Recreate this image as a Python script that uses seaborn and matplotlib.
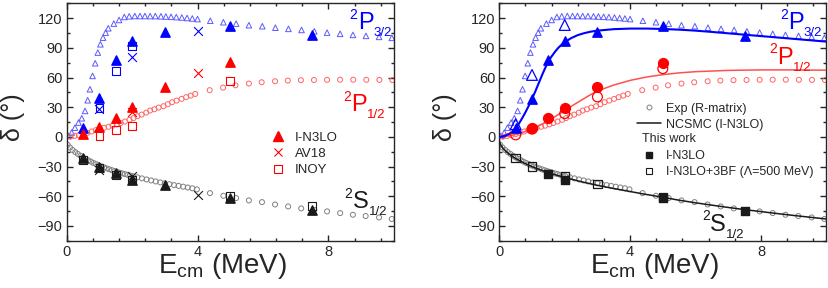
import matplotlib
matplotlib.use("Agg")
import matplotlib.pyplot as plt
import seaborn as sns
from matplotlib.lines import Line2D
from matplotlib.ticker import MultipleLocator

# Exp (R-matrix) phase shifts
e_p32 = [0.05, 0.15, 0.25, 0.36, 0.46, 0.56, 0.64, 0.71, 0.79, 0.87, 0.95, 1.03, 1.11, 1.19, 1.27,
         1.44, 1.60, 1.76, 1.91, 2.08, 2.24, 2.39, 2.55, 2.71, 2.88, 3.03, 3.19, 3.35, 3.52, 3.68,
         3.84, 4.00, 4.39, 4.79, 5.18, 5.57, 5.98, 6.38, 6.78, 7.18, 7.57, 7.96, 8.36, 8.75, 9.15,
         9.55, 9.94]
d_p32 = [1.1, 4.4, 9.4, 14.5, 18.9, 26.3, 37.1, 48.2, 61.7, 74.5, 85.3, 93.7, 100.4, 105.5, 109.9,
         114.6, 118.3, 121.3, 122.0, 122.3, 122.3, 122.3, 122.2, 122.2, 122.0, 121.8, 121.5, 121.2,
         120.8, 120.3, 119.8, 119.2, 117.5, 116.0, 114.6, 113.0, 112.0, 110.5, 109.3, 108.2, 106.8,
         105.5, 104.3, 103.2, 102.2, 101.2, 100.2]

e_p12 = [0.11, 0.24, 0.37, 0.50, 0.63, 0.76, 0.89, 1.02, 1.14, 1.28, 1.40, 1.53, 1.65, 1.78, 1.92,
         2.04, 2.16, 2.29, 2.43, 2.55, 2.68, 2.81, 2.96, 3.09, 3.22, 3.36, 3.51, 3.65, 3.79, 3.93,
         4.37, 4.78, 5.16, 5.57, 5.96, 6.37, 6.76, 7.16, 7.56, 7.96, 8.36, 8.76, 9.16, 9.56, 9.96]
d_p12 = [0.3, 1.0, 1.8, 2.9, 4.1, 5.5, 6.9, 8.3, 9.3, 10.3, 11.4, 12.7, 14.1, 15.6, 17.3,
         19.0, 21.0, 22.6, 24.6, 26.7, 28.0, 29.7, 31.1, 33.1, 35.1, 36.8, 38.5, 40.2, 41.8, 43.5,
         47.3, 49.9, 52.2, 54.0, 55.3, 56.3, 57.0, 57.4, 57.6, 57.8, 57.9, 57.9, 57.8, 57.7, 57.5]

e_s12 = [0.03, 0.10, 0.18, 0.26, 0.34, 0.42, 0.50, 0.58, 0.66, 0.74, 0.82, 0.90, 0.98, 1.06, 1.14,
         1.22, 1.30, 1.38, 1.46, 1.54, 1.62, 1.70, 1.78, 1.86, 1.94, 2.02, 2.16, 2.30, 2.44, 2.58,
         2.72, 2.86, 3.00, 3.14, 3.28, 3.42, 3.56, 3.70, 3.84, 3.98, 4.38, 4.79, 5.18, 5.57, 5.97,
         6.37, 6.77, 7.17, 7.57, 7.96, 8.36, 8.75, 9.14, 9.55, 9.94]
d_s12 = [-8.0, -10.7, -13.2, -15.3, -17.2, -19.0, -20.7, -22.2, -23.6, -25.0, -26.3, -27.5, -28.7,
         -29.8, -30.8, -31.8, -32.7, -33.6, -34.5, -35.3, -36.1, -36.9, -37.6, -38.3, -39.0, -39.7,
         -40.8, -41.9, -43.0, -44.0, -45.0, -46.0, -46.9, -47.8, -48.7, -49.5, -50.3, -51.1, -51.9,
         -53.0, -56.8, -59.5, -61.8, -64.2, -65.9, -68.3, -70.3, -72.3, -73.8, -75.3, -77.0, -78.7,
         -80.0, -81.4, -83.0]

# left panel: previous calculations
n3lo_e = [0.5, 1.0, 1.5, 2.0, 3.0, 5.0, 7.5]
n3lo_p32 = [9.5, 39.2, 77.6, 97.1, 106.2, 112.2, 103.0]
n3lo_p12_e = [0.5, 1.0, 1.5, 2.0, 3.0, 5.0]
n3lo_p12 = [3.4, 10.2, 19.6, 30.4, 50.6, 76.2]
n3lo_s12 = [-21.4, -30.2, -36.6, -43.3, -48.4, -61.8, -73.9]

av18_e = [1.0, 2.0, 4.0]
av18_p32 = [28.1, 80.9, 107.2]
av18_p12_e = [2.0, 4.0]
av18_p12 = [25.0, 64.4]
av18_s12 = [-33.5, -40.0, -58.5]

inoy_p32_e = [1.0, 1.5, 2.0]
inoy_p32 = [29.1, 67.0, 92.0]
inoy_p12_e = [1.0, 1.5, 2.0, 5.0]
inoy_p12 = [1.1, 6.9, 10.9, 56.7]
inoy_s12_e = [0.5, 1.0, 1.5, 2.0, 5.0, 7.5]
inoy_s12 = [-23.4, -31.0, -38.6, -43.0, -59.5, -69.6]

# right panel: NCSMC (I-N3LO) curves
nc_p32_e = [0.0, 0.1, 0.2, 0.3, 0.4, 0.5, 0.6, 0.7, 0.8, 0.9, 1.0, 1.1, 1.2, 1.3, 1.4, 1.5, 1.6,
            1.7, 1.8, 1.9, 2.0, 2.2, 2.4, 2.6, 2.8, 3.0, 3.5, 4.0, 4.5, 5.0, 5.5, 6.0, 6.5, 7.0,
            7.5, 8.0, 8.5, 9.0, 9.5, 10.0]
nc_p32 = [0.0, 0.5, 1.5, 3.0, 5.5, 9.0, 13.5, 19.0, 25.0, 31.5, 38.5, 46.0, 54.0, 62.0, 69.5,
          76.5, 81.5, 86.0, 90.0, 93.2, 96.0, 100.0, 103.0, 105.0, 106.5, 107.5, 109.0, 109.6,
          109.6, 109.2, 108.5, 107.5, 106.2, 104.8, 103.4, 102.0, 100.6, 99.2, 97.8, 96.4]
nc_p12_e = [0.0, 0.25, 0.5, 0.75, 1.0, 1.25, 1.5, 1.75, 2.0, 2.25, 2.5, 2.75, 3.0, 3.5, 4.0, 4.5,
            5.0, 5.5, 6.0, 7.0, 8.0, 9.0, 10.0]
nc_p12 = [0.0, 0.8, 2.5, 5.0, 8.0, 12.0, 16.5, 21.5, 26.7, 32.0, 37.0, 42.0, 46.5, 52.5, 57.2,
          60.6, 63.0, 64.8, 66.0, 67.3, 67.8, 67.8, 67.5]
nc_s12_e = [0.0, 0.02, 0.05, 0.1, 0.2, 0.3, 0.4, 0.5, 0.75, 1.0, 1.25, 1.5, 1.75, 2.0, 2.5, 3.0,
            3.5, 4.0, 4.5, 5.0, 5.5, 6.0, 6.5, 7.0, 7.5, 8.0, 8.5, 9.0, 9.5, 10.0]
nc_s12 = [-3.0, -6.0, -8.5, -11.0, -14.5, -17.3, -19.7, -21.8, -26.3, -30.0, -33.2, -36.0, -38.6,
          -41.0, -45.2, -48.9, -52.2, -55.2, -58.2, -61.0, -64.0, -66.6, -69.0, -71.3, -73.5,
          -75.5, -77.5, -79.4, -81.2, -83.0]

# right panel: this work
tw_p32_e = [0.5, 1.0, 1.5, 2.0, 3.0, 5.0, 7.5]
tw_p32 = [9.5, 38.2, 77.6, 97.1, 106.5, 112.2, 102.5]
tw3_p32_e = [0.5, 1.0, 2.0]
tw3_p32 = [12.9, 62.7, 113.2]
tw_p12_e = [1.0, 1.5, 2.0, 3.0, 5.0]
tw_p12 = [9.5, 19.0, 29.7, 50.6, 75.2]
tw3_p12_e = [0.5, 1.0, 2.0, 3.0, 5.0]
tw3_p12 = [2.1, 7.9, 23.6, 40.5, 69.1]
tw_s12_e = [1.5, 2.0, 5.0, 7.5]
tw_s12 = [-37.0, -43.6, -62.2, -74.4]
tw3_s12_e = [0.5, 1.0, 2.0, 3.0, 5.0]
tw3_s12 = [-21.4, -29.9, -40.0, -47.7, -60.5]

BLUE = "#0000ff"
RED = "#ff0000"
LBLUE = "#5a5aff"
LRED = "#ff6464"
GRAY = "#808080"

sns.set_theme(style="ticks")
plt.rcParams["font.family"] = ["Liberation Sans", "DejaVu Sans"]
plt.rcParams["mathtext.default"] = "regular"
plt.rcParams["axes.linewidth"] = 1.0


def pts(ax, x, y, marker, c, s, filled=True, lw=1.0, z=3):
    if marker == "x":
        sns.scatterplot(x=x, y=y, ax=ax, marker=marker, s=s, color=c, linewidth=lw,
                        zorder=z, legend=False)
    elif filled:
        sns.scatterplot(x=x, y=y, ax=ax, marker=marker, s=s, color=c, edgecolor=c,
                        linewidth=lw, zorder=z, legend=False)
    else:
        sns.scatterplot(x=x, y=y, ax=ax, marker=marker, s=s, color=c, facecolor="none",
                        edgecolor=c, linewidth=lw, zorder=z, legend=False)


def chan_label(ax, x, y, letter, sub, color):
    # "2" superscript, big letter, small subscript
    ax.annotate("2", (x, y), xytext=(0, 7.5), textcoords="offset points", fontsize=10,
                color=color, va="baseline", ha="left")
    ax.annotate(letter, (x, y), xytext=(5.8, 0), textcoords="offset points", fontsize=17,
                color=color, va="baseline", ha="left")
    ax.annotate(sub, (x, y), xytext=(17.2, -5), textcoords="offset points", fontsize=9.5,
                color=color, va="baseline", ha="left")


def exp_data(ax):
    pts(ax, e_p32, d_p32, "^", LBLUE, 16, filled=False, lw=0.7, z=2)
    pts(ax, e_p12, d_p12, "o", LRED, 13, filled=False, lw=0.7, z=2)
    pts(ax, e_s12, d_s12, "o", GRAY, 13, filled=False, lw=0.7, z=2)


def style_axes(ax):
    ax.set_xlim(0, 10)
    ax.set_ylim(-105, 135)
    ax.set_xticks([0, 4, 8])
    ax.xaxis.set_minor_locator(MultipleLocator(0.8))
    ax.yaxis.set_major_locator(MultipleLocator(30))
    ax.yaxis.set_minor_locator(MultipleLocator(15))
    ax.tick_params(which="both", direction="in", top=True, right=True, width=1.0)
    ax.tick_params(which="major", length=4, labelsize=10.5, pad=3)
    ax.tick_params(which="minor", length=2.5)
    ax.set_xlabel(r"E$_{cm}$ (MeV)", fontsize=20)
    ax.xaxis.set_label_coords(0.475, -0.045)
    ax.xaxis.label.set_va("top")
    ax.set_ylabel("δ (°)", fontsize=18)
    ax.yaxis.set_label_coords(-0.165, 0.52)
    ax.yaxis.label.set_va("center")


fig = plt.figure(figsize=(8.29, 2.88), dpi=100)
ax1 = fig.add_axes([0.0805, 0.164, 0.3945, 0.824])
ax2 = fig.add_axes([0.6023, 0.164, 0.3945, 0.824])

# ---- left panel
exp_data(ax1)
pts(ax1, inoy_p32_e, inoy_p32, "s", BLUE, 32, filled=False, lw=0.8)
pts(ax1, inoy_p12_e, inoy_p12, "s", RED, 32, filled=False, lw=0.8)
pts(ax1, inoy_s12_e, inoy_s12, "s", "k", 32, filled=False, lw=0.8)
pts(ax1, av18_e, av18_p32, "x", BLUE, 40, lw=0.8)
pts(ax1, av18_p12_e, av18_p12, "x", RED, 40, lw=0.8)
pts(ax1, av18_e, av18_s12, "x", "k", 40, lw=0.8)
pts(ax1, n3lo_e, n3lo_p32, "^", BLUE, 45)
pts(ax1, n3lo_p12_e, n3lo_p12, "^", RED, 45)
pts(ax1, n3lo_e, n3lo_s12, "^", "k", 45)

chan_label(ax1, 8.65, 109, "P", "3/2", BLUE)
chan_label(ax1, 8.45, 26, "P", "1/2", RED)
chan_label(ax1, 8.5, -72, "S", "1/2", "k")

h1 = [Line2D([], [], ls="none", marker="^", ms=7, color=RED),
      Line2D([], [], ls="none", marker="x", ms=6, color=RED, mew=0.8),
      Line2D([], [], ls="none", marker="s", ms=6, mfc="none", mec=RED, mew=0.8)]
ax1.legend(h1, ["I-N3LO", "AV18", "INOY"], loc="center left", bbox_to_anchor=(0.625, 0.366),
           frameon=False, fontsize=9.5, handlelength=1.0, handletextpad=0.8,
           borderpad=0, borderaxespad=0, labelspacing=0.3)

# ---- right panel
exp_data(ax2)
sns.lineplot(x=nc_s12_e, y=nc_s12, ax=ax2, color="k", linewidth=1.1, sort=False,
             estimator=None, legend=False, zorder=3)
sns.lineplot(x=nc_p12_e, y=nc_p12, ax=ax2, color="#ff5050", linewidth=1.1, sort=False,
             estimator=None, legend=False, zorder=3)
sns.lineplot(x=nc_p32_e, y=nc_p32, ax=ax2, color=BLUE, linewidth=1.5, sort=False,
             estimator=None, legend=False, zorder=3)
pts(ax2, tw3_p32_e, tw3_p32, "^", BLUE, 60, filled=False, lw=0.9, z=4)
pts(ax2, tw_p32_e, tw_p32, "^", BLUE, 45, z=5)
pts(ax2, tw_p12_e, tw_p12, "o", RED, 50, z=5)
pts(ax2, tw3_p12_e, tw3_p12, "o", RED, 50, filled=False, lw=0.9, z=4)
pts(ax2, tw_s12_e, tw_s12, "s", "k", 30, z=4)
pts(ax2, tw3_s12_e, tw3_s12, "s", "k", 36, filled=False, lw=0.9, z=5)

chan_label(ax2, 8.58, 109, "P", "3/2", BLUE)
chan_label(ax2, 8.25, 74, "P", "1/2", RED)
chan_label(ax2, 6.2, -95, "S", "1/2", "k")

h2 = [Line2D([], [], ls="none", marker="o", ms=3.5, mfc="none", mec=GRAY, mew=0.7),
      Line2D([], [], color="k", lw=1.1)]
leg = ax2.legend(h2, ["Exp (R-matrix)", "NCSMC (I-N3LO)"], loc="center left",
                 bbox_to_anchor=(0.421, 0.523), frameon=False, fontsize=9,
                 handlelength=1.9, handletextpad=0.45, borderpad=0, borderaxespad=0,
                 labelspacing=0.3)
ax2.add_artist(leg)
ax2.text(0.435, 0.43, "This work", transform=ax2.transAxes, fontsize=9, va="center")
h3 = [Line2D([], [], ls="none", marker="s", ms=5, color="k"),
      Line2D([], [], ls="none", marker="s", ms=5, mfc="none", mec="k", mew=0.8)]
ax2.legend(h3, ["I-N3LO", "I-N3LO+3BF (Λ=500 MeV)"], loc="center left",
           bbox_to_anchor=(0.421, 0.323), frameon=False, fontsize=9,
           handlelength=1.9, handletextpad=0.45, borderpad=0, borderaxespad=0,
           labelspacing=0.3)

for ax in (ax1, ax2):
    style_axes(ax)

fig.savefig("out.png", dpi=100)
